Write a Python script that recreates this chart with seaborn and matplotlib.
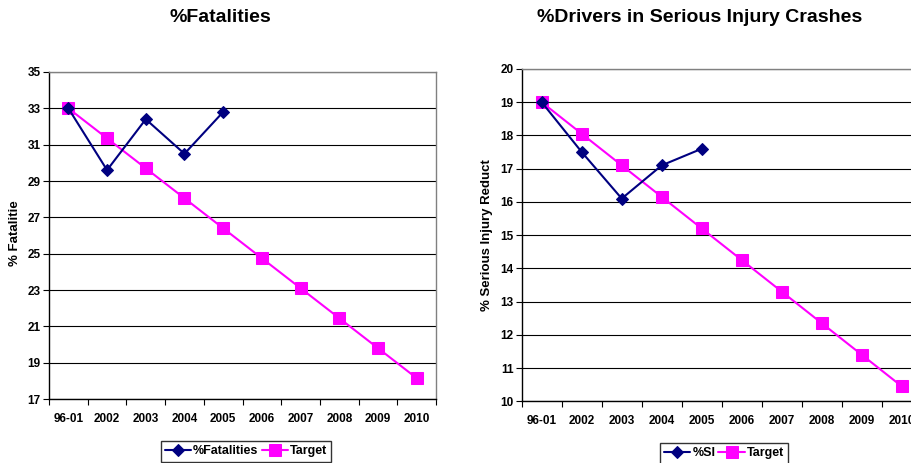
import matplotlib
matplotlib.use("Agg")
import matplotlib.pyplot as plt
import seaborn as sns
import numpy as np
import pandas as pd

categories = ["96-01", "2002", "2003", "2004", "2005", "2006", "2007", "2008", "2009", "2010"]
fatalities = [33.0, 29.6, 32.4, 30.5, 32.8]
fatal_target = [33.0, 31.35, 29.7, 28.05, 26.4, 24.75, 23.1, 21.45, 19.8, 18.15]
si = [19.0, 17.5, 16.1, 17.1, 17.6]
si_target = [19.0, 18.05, 17.1, 16.15, 15.2, 14.25, 13.3, 12.35, 11.4, 10.45]

sns.set_theme(style="white")
plt.rcParams["font.family"] = ["Liberation Sans", "DejaVu Sans"]
plt.rcParams["font.weight"] = "bold"
plt.rcParams["text.color"] = "black"
plt.rcParams["xtick.color"] = "black"
plt.rcParams["ytick.color"] = "black"
plt.rcParams["axes.labelcolor"] = "black"

NAVY = "#000080"
MAG = "#FF00FF"

fig = plt.figure(figsize=(9.11, 4.63), dpi=100)
axL = fig.add_axes([0.0538, 0.1382, 0.4248, 0.7063])
axR = fig.add_axes([0.5727, 0.1333, 0.4391, 0.7177])


def draw(ax, actual, target, actual_name, ylim, yticks, ylabel, title, title_xy, legend_xy, label_xy):
    xa = np.arange(len(actual))
    xt = np.arange(len(target))
    sns.lineplot(x=xa, y=actual, ax=ax, color=NAVY, marker="D", markersize=6,
                 markeredgecolor=NAVY, linewidth=1.5, label=actual_name, zorder=4)
    sns.lineplot(x=xt, y=target, ax=ax, color=MAG, marker="s", markersize=8,
                 markeredgecolor=MAG, linewidth=1.5, label="Target", zorder=3)
    ax.set_xlim(-0.5, len(categories) - 0.5)
    ax.set_ylim(*ylim)
    ax.set_yticks(yticks)
    ax.set_yticklabels([str(v) for v in yticks], fontsize=8.5, fontweight="bold")
    ax.set_xticks(np.arange(len(categories)))
    ax.set_xticklabels(categories, fontsize=8.5, fontweight="bold")
    ax.set_xticks(np.arange(len(categories) + 1) - 0.5, minor=True)
    ax.tick_params(axis="x", which="major", length=0, pad=10)
    ax.tick_params(axis="x", which="minor", length=4, width=0.8, color="black", direction="out", bottom=True)
    ax.tick_params(axis="y", which="major", length=4, width=0.8, color="black", direction="out", left=True, pad=2)
    ax.grid(axis="y", color="black", linewidth=0.8)
    ax.grid(axis="x", visible=False)
    ax.set_axisbelow(True)
    for s in ["left", "bottom"]:
        ax.spines[s].set_color("black")
        ax.spines[s].set_linewidth(1.0)
    for s in ["top", "right"]:
        ax.spines[s].set_color("#808080")
        ax.spines[s].set_linewidth(1.0)
    ax.set_xlabel("")
    ax.set_ylabel(ylabel, fontsize=9.5, fontweight="bold")
    ax.yaxis.set_label_coords(*label_xy)
    fig.text(title_xy[0], title_xy[1], title, fontsize=14, fontweight="bold",
             ha="center", va="center", color="black")
    ax.get_legend().remove()
    h, l = ax.get_legend_handles_labels()
    leg = fig.legend(h, l, loc="upper center", bbox_to_anchor=legend_xy, ncol=2,
                     frameon=True, fancybox=False, fontsize=9, handlelength=2.1,
                     columnspacing=0.25, handletextpad=0.15, borderpad=0.35,
                     borderaxespad=0)
    leg.get_frame().set_edgecolor("black")
    leg.get_frame().set_linewidth(1.0)
    for t in leg.get_texts():
        t.set_fontweight("bold")


draw(axL, fatalities, fatal_target, "%Fatalities", (17, 35), list(range(17, 36, 2)),
     "% Fatalitie", "%Fatalities", (220 / 911, 1 - 17 / 463), (246 / 911, 1 - 441 / 463),
     (-0.072, 0.508))
draw(axR, si, si_target, "%SI", (10, 20), list(range(10, 21)),
     "% Serious Injury Reduct", "%Drivers in Serious Injury Crashes",
     (700 / 911, 1 - 18 / 463), (724 / 911, 1 - 443 / 463), (-0.072, 0.50))

fig.savefig("out.png", dpi=100, facecolor="white")
